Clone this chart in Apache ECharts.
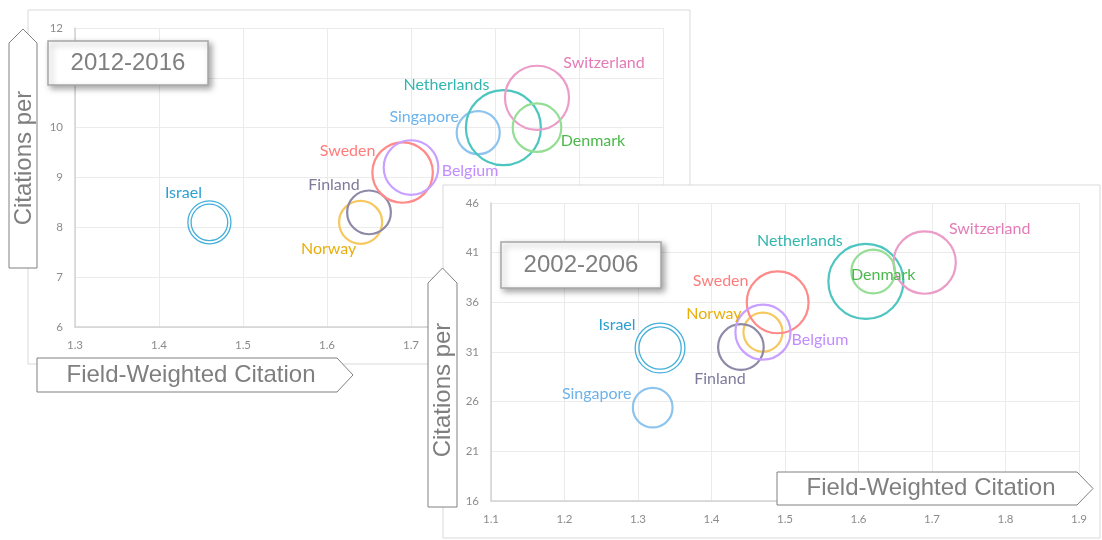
<!DOCTYPE html>
<html>
<head>
<meta charset="utf-8">
<script src="https://cdn.jsdelivr.net/npm/echarts@6/dist/echarts.min.js"></script>
<style>
  html, body { margin: 0; padding: 0; background: #fff; }
  #chart { width: 1102px; height: 540px; }
</style>
</head>
<body>
<div id="chart"></div>
<script>
// Countries shown in both periods
const countries = ['Israel', 'Norway', 'Finland', 'Sweden', 'Belgium', 'Singapore', 'Netherlands', 'Switzerland', 'Denmark'];

// 2012-2016: field-weighted citation impact, citations per publication, relative output volume
const fwci2012 = [1.46, 1.64, 1.65, 1.69, 1.70, 1.78, 1.81, 1.85, 1.85];
const cites2012 = [8.1, 8.1, 8.3, 9.1, 9.2, 9.9, 10.0, 10.6, 10.0];
const volume2012 = [33, 33, 34, 65, 53, 33, 100, 73, 42];

// 2002-2006
const fwci2002 = [1.33, 1.47, 1.44, 1.49, 1.47, 1.32, 1.61, 1.69, 1.62];
const cites2002 = [31.4, 33.0, 31.5, 36.0, 33.0, 25.4, 38.1, 40.0, 39.1];
const volume2002 = [44, 27, 37, 68, 54, 28, 100, 69, 34];

// Axis ticks
const xTicks2012 = { min: 1.3, max: 2.0, step: 0.1 };
const yTicks2012 = { min: 6, max: 12, step: 1 };
const xTicks2002 = { min: 1.1, max: 1.9, step: 0.1 };
const yTicks2002 = { min: 16, max: 46, step: 5 };

const periodTitles = ['2012-2016', '2002-2006'];
const xTitle = 'Field-Weighted Citation';
const yTitle = 'Citations per';

// Styling
const ringColors = {
  Israel: '#45AFDB', Norway: '#F6C85F', Finland: '#8E89A8', Sweden: '#FF8A8A', Belgium: '#C9A0FF',
  Singapore: '#8DC4EE', Netherlands: '#4DC5C0', Switzerland: '#EC9CC8', Denmark: '#96DE96'
};
const labelColors = {
  Israel: '#2C9FD1', Norway: '#E8AF0C', Finland: '#7E7A9B', Sweden: '#FF7C7C', Belgium: '#C18CFF',
  Singapore: '#6DB2EA', Netherlands: '#32B6AE', Switzerland: '#E57BB6', Denmark: '#4BB84B'
};
const labelOffsets2012 = {
  Israel: [-26, -30], Norway: [-32, 26], Finland: [-35, -28], Sweden: [-55, -22], Belgium: [59, 3],
  Singapore: [-54, -16], Netherlands: [-57, -43], Switzerland: [67, -35], Denmark: [56, 13]
};
const labelOffsets2002 = {
  Israel: [-43, -23], Norway: [-49, -18], Finland: [-21, 32], Sweden: [-57, -21], Belgium: [57, 8],
  Singapore: [-56, -14], Netherlands: [-66, -41], Switzerland: [65, -34], Denmark: [10, 3]
};
const doubleRing = 'path://M0,50A50,50,0,1,1,100,50A50,50,0,1,1,0,50ZM7.5,50A42.5,42.5,0,1,1,92.5,50A42.5,42.5,0,1,1,7.5,50Z';
const MAX_BUBBLE = 75;
const GREY = '#7f7f7f';

function bubbleSeries(xs, ys, vols, offsets, axisIndex, z) {
  const vmax = Math.max.apply(null, vols);
  return {
    type: 'scatter',
    xAxisIndex: axisIndex,
    yAxisIndex: axisIndex,
    z: z,
    silent: true,
    emphasis: { disabled: true },
    symbolSize: function (v) { return MAX_BUBBLE * Math.sqrt(v[2] / vmax); },
    data: countries.map(function (c, i) {
      const isDouble = c === 'Israel';
      return {
        name: c,
        value: [xs[i], ys[i], vols[i]],
        symbol: isDouble ? doubleRing : 'circle',
        itemStyle: {
          color: 'rgba(255,255,255,0)',
          borderColor: ringColors[c],
          borderWidth: isDouble ? 1.3 : 2.2,
          opacity: 1
        },
        label: {
          show: true,
          formatter: '{b}',
          position: 'inside',
          offset: offsets[c],
          color: labelColors[c],
          fontFamily: 'Lato',
          fontSize: 16
        }
      };
    })
  };
}

function valueAxis(t, gridIndex, z) {
  return {
    type: 'value',
    gridIndex: gridIndex,
    min: t.min, max: t.max, interval: t.step,
    z: z,
    axisLine: { show: true, onZero: false, lineStyle: { color: '#d2d2d2', width: 1.5 } },
    axisTick: { show: false },
    splitLine: { show: true, lineStyle: { color: '#ebebeb', width: 1 } },
    axisLabel: {
      color: '#8c8c8c', fontFamily: 'Lato', fontSize: 11.5, margin: 12,
      formatter: function (v) { return t.step < 1 ? v.toFixed(1) : String(v); }
    }
  };
}

function titleBox(x, y, w, h, text, z) {
  return [
    {
      type: 'rect', z: z,
      shape: { x: x, y: y, width: w, height: h },
      style: {
        fill: '#fff', stroke: '#a6a6a6', lineWidth: 1.5,
        shadowBlur: 6, shadowOffsetX: 3, shadowOffsetY: 3, shadowColor: 'rgba(0,0,0,0.35)'
      }
    },
    {
      type: 'text', z: z + 1, x: x + w / 2, y: y + h / 2,
      style: { text: text, fill: GREY, font: '24px "Liberation Sans", Arial, sans-serif', align: 'center', verticalAlign: 'middle' }
    }
  ];
}

function upArrow(left, right, tipY, shoulderY, bottom, textY, z) {
  const cx = (left + right) / 2;
  return [
    {
      type: 'polygon', z: z,
      shape: { points: [[left, bottom], [left, shoulderY], [cx, tipY], [right, shoulderY], [right, bottom]] },
      style: { fill: '#fff', stroke: '#808080', lineWidth: 1 }
    },
    {
      type: 'text', z: z + 1, x: cx + 1, y: textY, rotation: Math.PI / 2,
      style: { text: yTitle, fill: GREY, font: '24px "Liberation Sans", Arial, sans-serif', align: 'center', verticalAlign: 'middle' }
    }
  ];
}

function rightArrow(left, shoulderX, tipX, top, bottom, textX, z) {
  const cy = (top + bottom) / 2;
  return [
    {
      type: 'polygon', z: z,
      shape: { points: [[left, top], [shoulderX, top], [tipX, cy], [shoulderX, bottom], [left, bottom]] },
      style: { fill: '#fff', stroke: '#808080', lineWidth: 1 }
    },
    {
      type: 'text', z: z + 1, x: textX, y: cy,
      style: { text: xTitle, fill: GREY, font: '24px "Liberation Sans", Arial, sans-serif', align: 'center', verticalAlign: 'middle' }
    }
  ];
}

const chart = echarts.init(document.getElementById('chart'), null, { renderer: 'canvas' });

const graphics = [].concat(
  // 2012-2016 panel
  [{ type: 'rect', z: -10, shape: { x: 28, y: 10, width: 662, height: 354 }, style: { fill: '#fff', stroke: '#d9d9d9', lineWidth: 1 } }],
  titleBox(48, 41, 160, 44, periodTitles[0], 3),
  upArrow(9, 37, 29, 43, 268, 158, 3),
  rightArrow(37, 337, 353, 358, 392, 191, 3),
  // 2002-2006 panel drawn over the first one
  [{ type: 'rect', z: 5, shape: { x: 443, y: 185, width: 657, height: 353 }, style: { fill: '#fff', stroke: '#d9d9d9', lineWidth: 1 } }],
  titleBox(501, 242, 160, 46, periodTitles[1], 8),
  upArrow(428, 457, 268, 283, 507, 390, 8),
  rightArrow(777, 1077, 1093, 472, 505, 931, 8)
);

chart.setOption({
  animation: false,
  backgroundColor: '#fff',
  grid: [
    { left: 75, top: 28, width: 588, height: 299 },
    { left: 491, top: 203, width: 588, height: 298 }
  ],
  xAxis: [valueAxis(xTicks2012, 0, 0), valueAxis(xTicks2002, 1, 6)],
  yAxis: [valueAxis(yTicks2012, 0, 0), valueAxis(yTicks2002, 1, 6)],
  graphic: { elements: graphics },
  series: [
    bubbleSeries(fwci2012, cites2012, volume2012, labelOffsets2012, 0, 2),
    bubbleSeries(fwci2002, cites2002, volume2002, labelOffsets2002, 1, 7)
  ]
});
</script>
</body>
</html>
